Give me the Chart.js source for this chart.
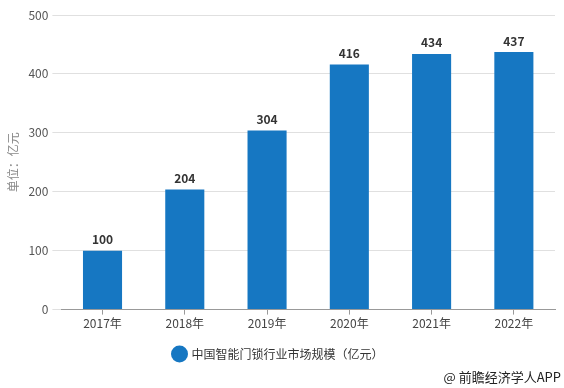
<!DOCTYPE html>
<html>
<head>
<meta charset="utf-8">
<script src="https://cdn.jsdelivr.net/npm/chart.js@4/dist/chart.umd.min.js"></script>
<style>
html, body { margin: 0; padding: 0; background: #fff; }
#wrap { width: 564px; height: 388px; position: relative; }
</style>
</head>
<body>
<div id="wrap"><canvas id="chart"></canvas></div>
<script>
const years = ['2017年', '2018年', '2019年', '2020年', '2021年', '2022年']
const marketSize = [100, 204, 304, 416, 434, 437]
const yTicks = [0, 100, 200, 300, 400, 500]
const seriesName = '中国智能门锁行业市场规模（亿元）'
const yTitle = '单位：亿元'
const sourceNote = '@ 前瞻经济学人APP'

const FONT = '"Noto Sans CJK SC", "Microsoft YaHei", sans-serif'
Chart.defaults.font.family = FONT
Chart.defaults.font.size = 12

// numbers above bars
const barLabels = {
    id: 'barLabels',
    afterDatasetsDraw(chart) {
        let ctx = chart.ctx
        let meta = chart.getDatasetMeta(0)
        ctx.save()
        ctx.font = 'bold 12px ' + FONT
        ctx.fillStyle = '#333'
        ctx.textAlign = 'center'
        ctx.textBaseline = 'bottom'
        meta.data.forEach((bar, i) => {
            ctx.fillText(chart.data.datasets[0].data[i], bar.x, bar.y - 5)
        })
        ctx.restore()
    }
}

// source note bottom right
const footNote = {
    id: 'footNote',
    afterDraw(chart) {
        let ctx = chart.ctx
        ctx.save()
        ctx.font = '13px ' + FONT
        ctx.fillStyle = '#222'
        ctx.textAlign = 'right'
        ctx.textBaseline = 'middle'
        ctx.fillText(sourceNote, 561, 377)
        ctx.restore()
    }
}

new Chart(document.getElementById('chart'), {
    type: 'bar',
    data: {
        labels: years,
        datasets: [{
            label: seriesName,
            data: marketSize,
            backgroundColor: '#1677c2',
            barPercentage: 0.475,
            categoryPercentage: 1
        }]
    },
    options: {
        responsive: true,
        maintainAspectRatio: false,
        animation: false,
        layout: { padding: { top: 15, right: 9, left: 2, bottom: 18 } },
        scales: {
            x: {
                grid: { drawOnChartArea: false, offset: false, tickLength: 5, color: '#999' },
                border: { color: '#999' },
                ticks: { color: '#444', padding: 2, font: { size: 12 } }
            },
            y: {
                min: 0,
                max: 500,
                afterBuildTicks: axis => { axis.ticks = yTicks.map(v => ({ value: v })) },
                grid: { color: '#e0e0e0', tickLength: 9 },
                border: { display: false },
                ticks: { color: '#555', padding: 4, font: { size: 12 } },
                title: { display: true, text: yTitle, color: '#888', font: { size: 12 }, padding: 4 }
            }
        },
        plugins: {
            legend: {
                position: 'bottom',
                labels: {
                    usePointStyle: true,
                    pointStyle: 'circle',
                    boxWidth: 12,
                    boxHeight: 12,
                    color: '#333',
                    font: { size: 12 },
                    padding: 15
                }
            },
            tooltip: { enabled: false }
        }
    },
    plugins: [barLabels, footNote]
})
</script>
</body>
</html>
